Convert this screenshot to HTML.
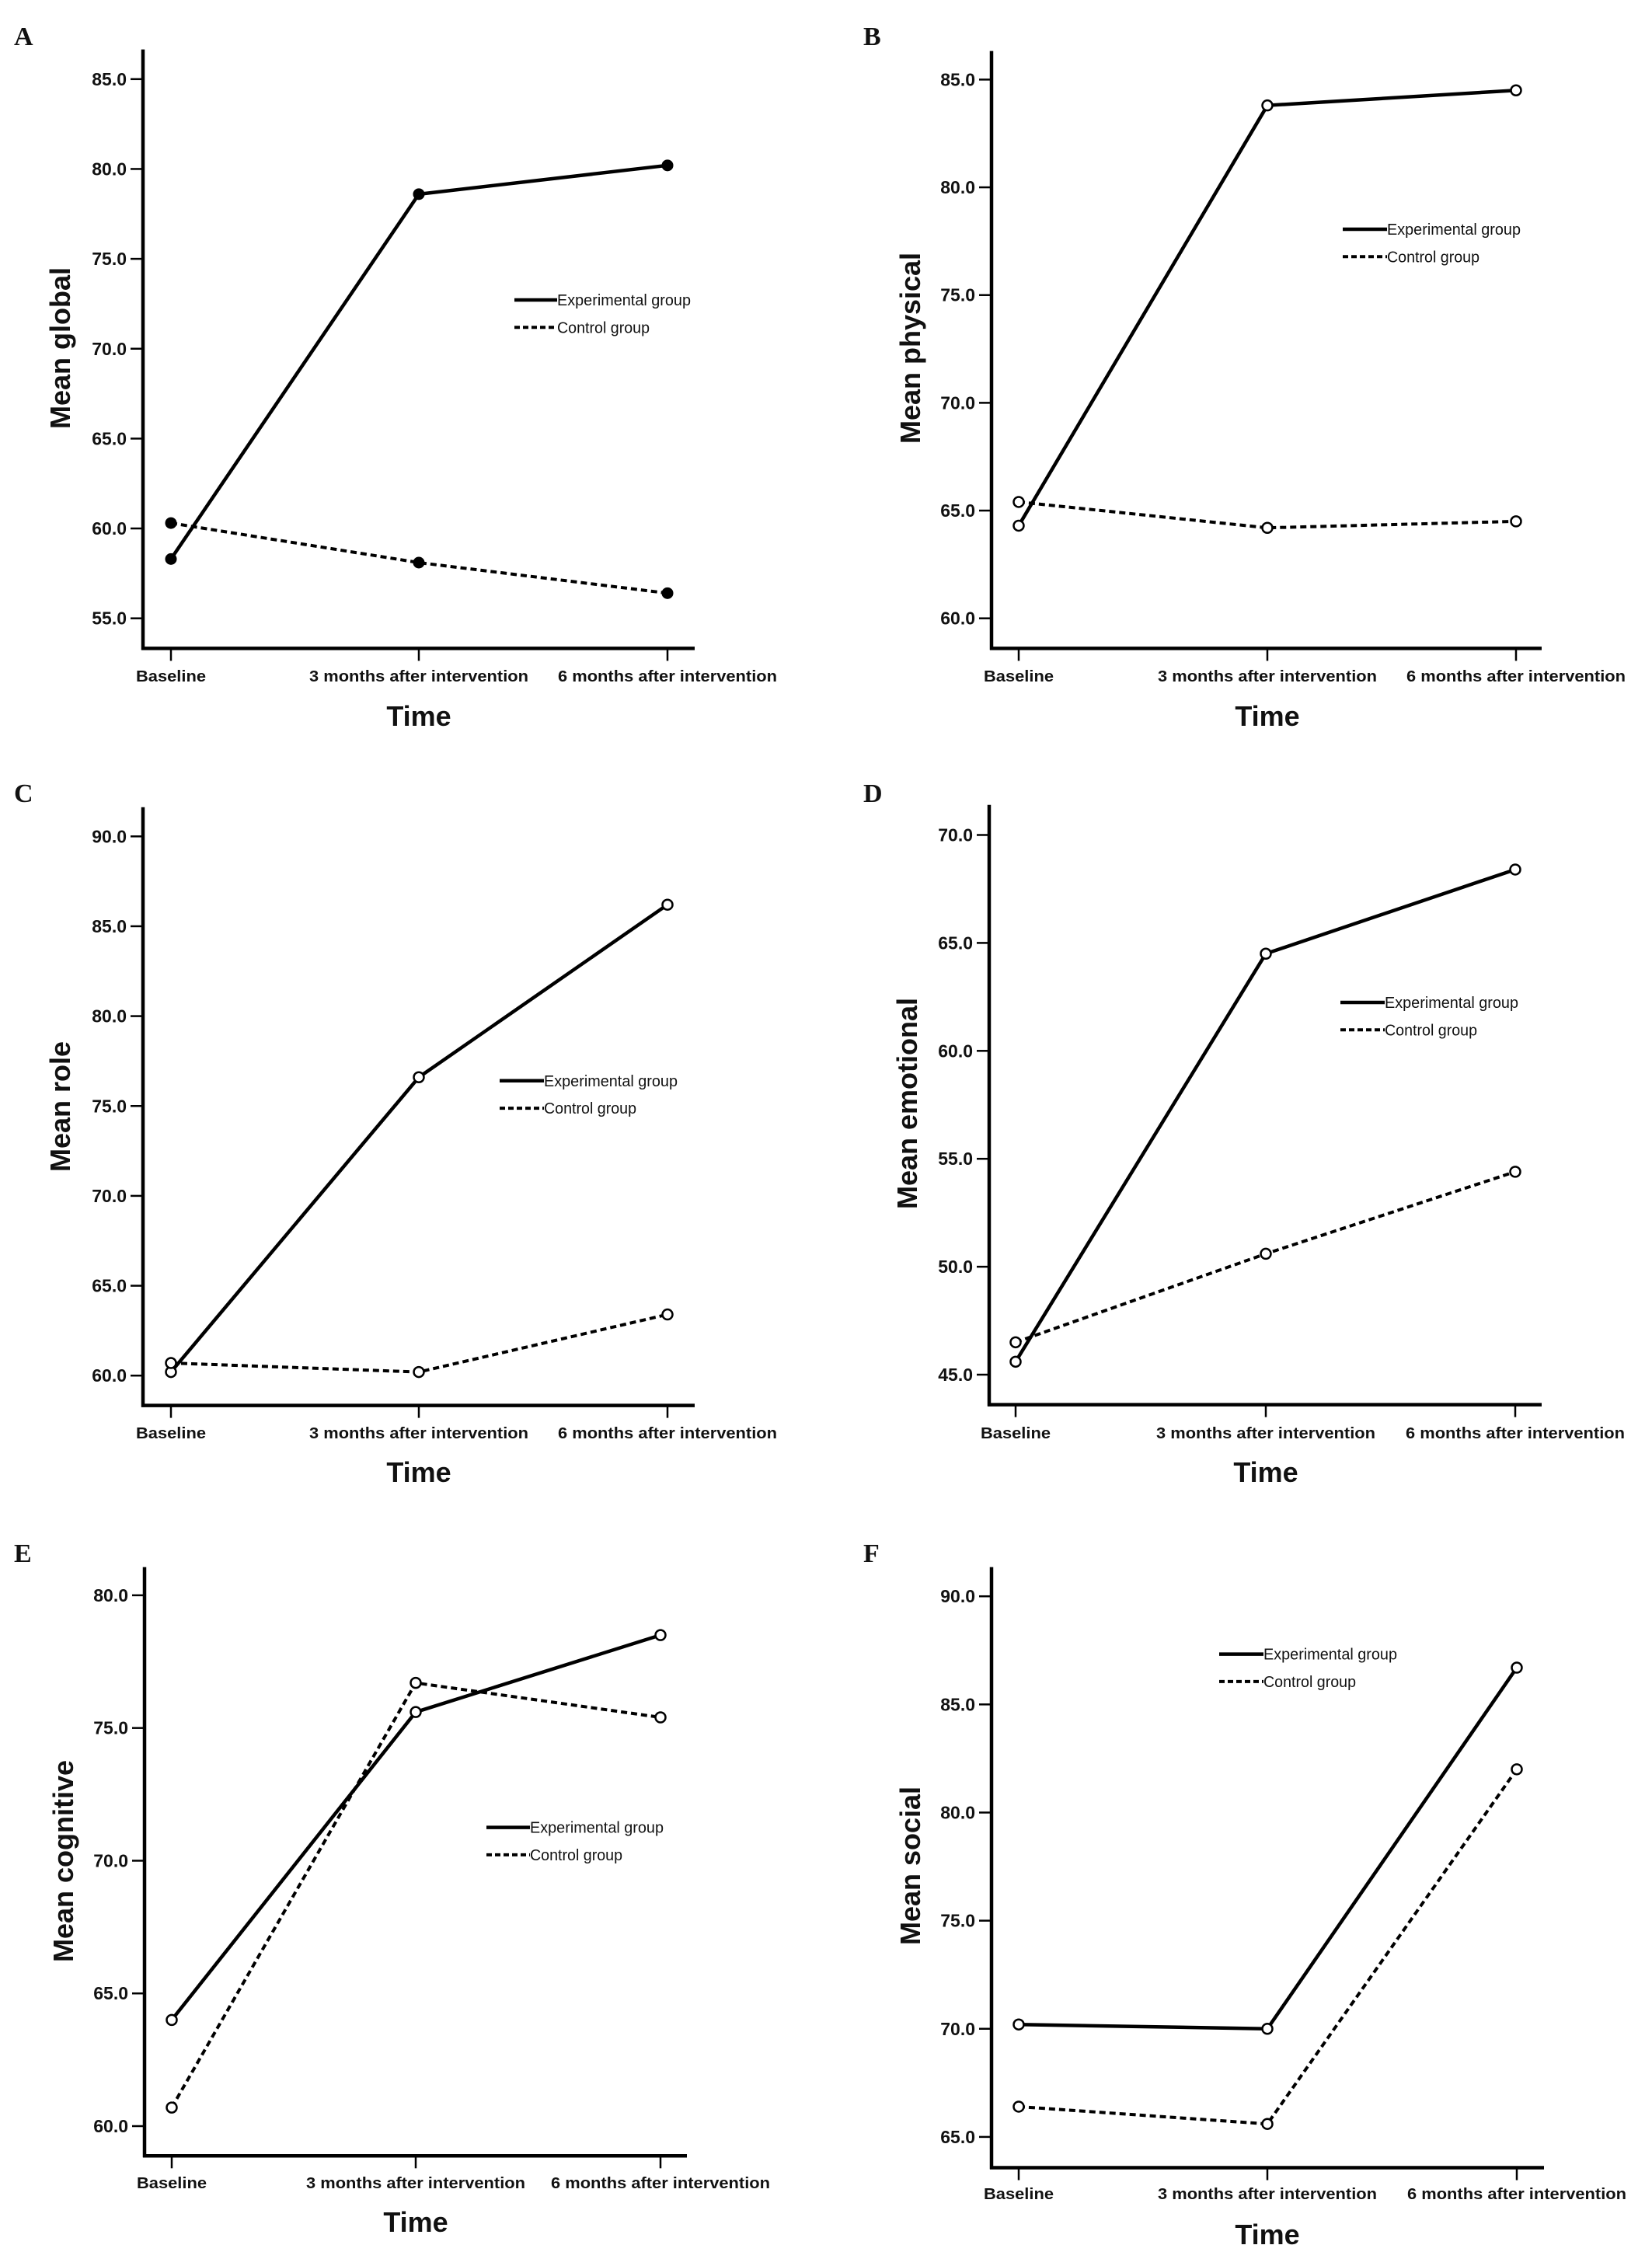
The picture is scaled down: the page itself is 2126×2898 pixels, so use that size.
<!DOCTYPE html>
<html><head><meta charset="utf-8">
<style>
html,body{margin:0;padding:0;background:#fff;}
svg{display:block;}
text{font-family:"Liberation Sans",Arial,sans-serif;fill:#111;}
</style></head>
<body>
<svg id="fig" width="2126" height="2898" viewBox="0 0 2126 2898" xmlns="http://www.w3.org/2000/svg"></svg>
<script>
// ---- data ----
const categories = ["Baseline", "3 months after intervention", "6 months after intervention"];
const seriesNames = ["Experimental group", "Control group"];
const globalExp = [58.3, 78.6, 80.2];
const globalCtrl = [60.3, 58.1, 56.4];
const physicalExp = [64.3, 83.8, 84.5];
const physicalCtrl = [65.4, 64.2, 64.5];
const roleExp = [60.2, 76.6, 86.2];
const roleCtrl = [60.7, 60.2, 63.4];
const emotionalExp = [45.6, 64.5, 68.4];
const emotionalCtrl = [46.5, 50.6, 54.4];
const cognitiveExp = [64.0, 75.6, 78.5];
const cognitiveCtrl = [60.7, 76.7, 75.4];
const socialExp = [70.2, 70.0, 86.7];
const socialCtrl = [66.4, 65.6, 82.0];
const globalTicks = [55, 60, 65, 70, 75, 80, 85];
const physicalTicks = [60, 65, 70, 75, 80, 85];
const roleTicks = [60, 65, 70, 75, 80, 85, 90];
const emotionalTicks = [45, 50, 55, 60, 65, 70];
const cognitiveTicks = [60, 65, 70, 75, 80];
const socialTicks = [65, 70, 75, 80, 85, 90];

// ---- layout ----
const panels = [
 {id:"a",letter:"A",lx:18,ly:58,ylab:"Mean global",exp:globalExp,ctrl:globalCtrl,ticks:globalTicks,filled:true,
  ax:184,top:63.6,bot:834.4,right:894,cx:[220,539,859],tLo:795.7,tHi:101.8,ylx:77,yly:448,legX:662,legW:55,legY:386,catY:870,timeY:921},
 {id:"b",letter:"B",lx:1111,ly:58,ylab:"Mean physical",exp:physicalExp,ctrl:physicalCtrl,ticks:physicalTicks,
  ax:1276,top:65.6,bot:834.4,right:1984,cx:[1311,1631,1951],tLo:795.7,tHi:102.4,ylx:1171,yly:448,legX:1728,legW:57,legY:295,catY:870,timeY:921},
 {id:"c",letter:"C",lx:18,ly:1032,ylab:"Mean role",exp:roleExp,ctrl:roleCtrl,ticks:roleTicks,
  ax:184,top:1038.7,bot:1808.6,right:894,cx:[220,539,859],tLo:1770.2,tHi:1076.3,ylx:77,yly:1424,legX:643,legW:57,legY:1390.8,catY:1844,timeY:1894},
 {id:"d",letter:"D",lx:1111,ly:1032,ylab:"Mean emotional",exp:emotionalExp,ctrl:emotionalCtrl,ticks:emotionalTicks,
  ax:1273,top:1035.7,bot:1807.6,right:1984,cx:[1307,1629,1950],tLo:1769,tHi:1074.5,ylx:1167,yly:1420,legX:1725,legW:57,legY:1290,catY:1844,timeY:1894},
 {id:"e",letter:"E",lx:18,ly:2010,ylab:"Mean cognitive",exp:cognitiveExp,ctrl:cognitiveCtrl,ticks:cognitiveTicks,
  ax:186,top:2016.6,bot:2774.3,right:884,cx:[221,535,850],tLo:2736,tHi:2052.9,ylx:81,yly:2395,legX:626,legW:56,legY:2351.6,catY:2809,timeY:2859},
 {id:"f",letter:"F",lx:1111,ly:2010,ylab:"Mean social",exp:socialExp,ctrl:socialCtrl,ticks:socialTicks,
  ax:1276,top:2016.6,bot:2789.5,right:1987,cx:[1311,1631,1952],tLo:2749.9,tHi:2054.2,ylx:1171,yly:2401,legX:1569,legW:57,legY:2128.6,catY:2823,timeY:2875}
];

const NS="http://www.w3.org/2000/svg";
const svg=document.getElementById("fig");
function mk(tag,attrs,parent){const e=document.createElementNS(NS,tag);for(const k in attrs)e.setAttribute(k,attrs[k]);(parent||svg).appendChild(e);return e;}

panels.forEach(p=>{
  const g=mk("g",{});
  
  
  const t0=p.ticks[0],t1=p.ticks[p.ticks.length-1];
  const y=v=>p.tLo+(v-t0)*(p.tHi-p.tLo)/(t1-t0);
  const x=i=>p.cx[i];

  const L=mk("text",{x:p.lx,y:p.ly,"font-size":34,"font-weight":"bold",style:"font-family:'Liberation Serif',serif"},g);
  L.textContent=p.letter;
  
  

  const ya=mk("line",{x1:p.ax,y1:p.top,x2:p.ax,y2:p.bot+2,stroke:"#000","stroke-width":4.5},g);
  
  
  const xa=mk("line",{x1:p.ax-2,y1:p.bot,x2:p.right,y2:p.bot,stroke:"#000","stroke-width":4.5},g);
  
  

  p.ticks.forEach(v=>{
    const tk=mk("line",{x1:p.ax-16,y1:y(v),x2:p.ax,y2:y(v),stroke:"#000","stroke-width":2.5},g);
    
    
    const tl=mk("text",{x:p.ax-21,y:y(v)+8,"font-size":23,"font-weight":"bold","text-anchor":"end"},g);
    tl.textContent=v.toFixed(1);
    
    
  });

  categories.forEach((c,i)=>{
    const tk=mk("line",{x1:x(i),y1:p.bot,x2:x(i),y2:p.bot+16,stroke:"#000","stroke-width":2.5},g);
    
    
    const tl=mk("text",{x:x(i),y:p.catY+7,"font-size":20,"font-weight":"bold","text-anchor":"middle"},g);
    if(i>0){tl.setAttribute("textLength",282);tl.setAttribute("lengthAdjust","spacingAndGlyphs");}
    else{tl.setAttribute("textLength",90);tl.setAttribute("lengthAdjust","spacingAndGlyphs");}
    tl.textContent=c;
    
    
  });

  const xt=mk("text",{x:(p.cx[1]),y:p.timeY+13,"font-size":36,"font-weight":"bold","text-anchor":"middle"},g);
  xt.textContent="Time";
  
  

  const yt=mk("text",{x:0,y:0,"font-size":36,"font-weight":"bold","text-anchor":"middle",transform:`translate(${p.ylx+13},${p.yly}) rotate(-90)`},g);
  yt.textContent=p.ylab;
  
  

  [[p.exp,false,"experimental"],[p.ctrl,true,"control"]].forEach(([vals,dash,nm])=>{
    const pts=vals.map((v,i)=>x(i)+","+y(v)).join(" ");
    const pl=mk("polyline",{points:pts,fill:"none",stroke:"#000","stroke-width":dash?4:4.5,"stroke-dasharray":dash?"8,5":"none","stroke-linejoin":"round"},g);
    
    
    vals.forEach((v,i)=>{
      const c=mk("circle",{cx:x(i),cy:y(v),r:p.filled?7:6.5,fill:p.filled?"#000":"#fff",stroke:"#000","stroke-width":p.filled?1:2.5},g);
      
      
    });
  });

  seriesNames.forEach((s,k)=>{
    const ly=p.legY+k*35.3;
    const ll=mk("line",{x1:p.legX,y1:ly,x2:p.legX+p.legW,y2:ly,stroke:"#000","stroke-width":k?4:4.5,"stroke-dasharray":k?"7,4":"none"},g);
    
    
    const lt=mk("text",{x:p.legX+p.legW,y:ly+7,"font-size":20,textLength:k?119:172,lengthAdjust:"spacingAndGlyphs"},g);
    lt.textContent=s;
    
    
  });
});
</script>
</body></html>
